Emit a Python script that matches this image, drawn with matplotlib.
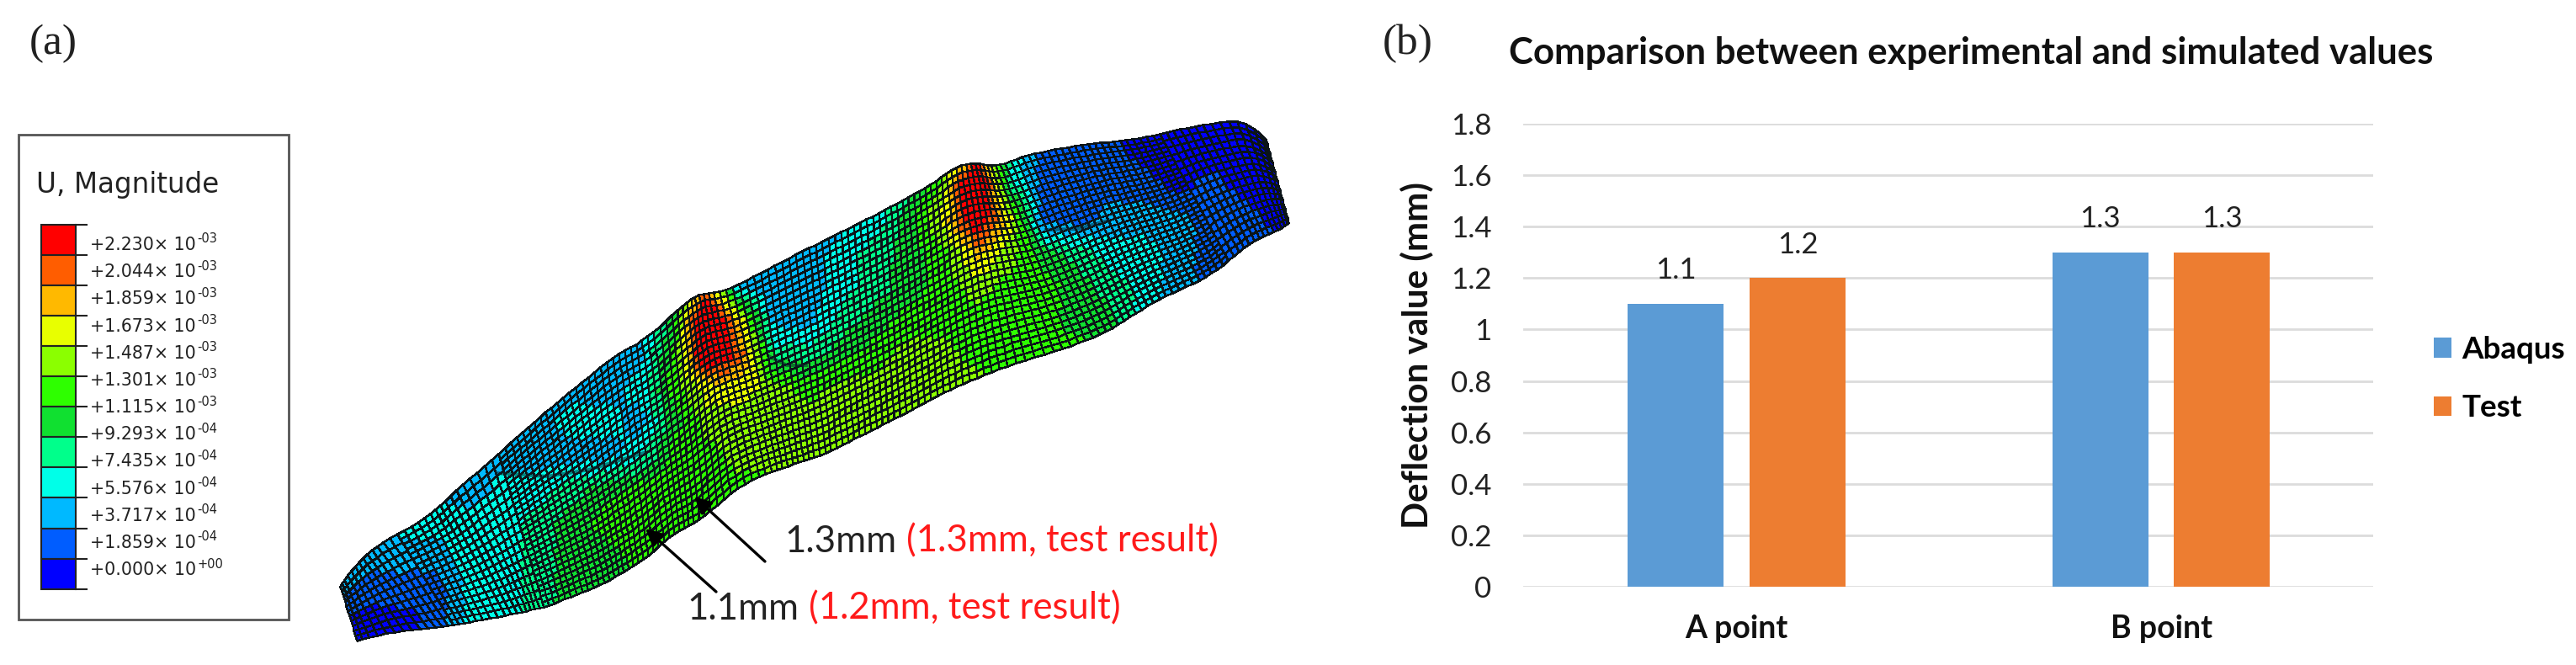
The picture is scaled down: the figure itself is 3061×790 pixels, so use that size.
import numpy as np
import matplotlib
matplotlib.use("Agg")
import matplotlib.pyplot as plt
from matplotlib.colors import ListedColormap, BoundaryNorm
from matplotlib.patches import Rectangle

W, H = 3061, 790

# ---- panel (b) data
categories = ["A point", "B point"]
abaqus = [1.1, 1.3]
test = [1.2, 1.3]
y_ticks = [0, 0.2, 0.4, 0.6, 0.8, 1, 1.2, 1.4, 1.6, 1.8]
y_tick_labels = ["0", "0.2", "0.4", "0.6", "0.8", "1", "1.2", "1.4", "1.6", "1.8"]

# ---- panel (a) contour legend
band_colors = ["#FF0000", "#FF5D00", "#FFB900", "#E8FF00", "#8BFF00", "#2EFF00",
               "#10E030", "#00FF8B", "#00FFE8", "#00B9FF", "#005DFF", "#0000FF"]
level_text = ["+2.230", "+2.044", "+1.859", "+1.673", "+1.487", "+1.301", "+1.115",
              "+9.293", "+7.435", "+5.576", "+3.717", "+1.859", "+0.000"]
level_exp = ["-03"] * 7 + ["-04"] * 5 + ["+00"]

# ---- panel (a) deformed part: outline stations (pixels)
top_edge = [(402,700),(420,673),(447,648),(510,613),(533,590),(600,532),(667,473),(733,420),
            (767,403),(810,363),(833,347),(857,348),(950,300),(1050,250),(1110,217),(1133,198),
            (1157,192),(1183,198),(1223,183),(1283,172),(1350,165),(1417,150),(1483,140),(1510,173)]
bottom_edge = [(418,762),(467,750),(520,745),(567,737),(610,729),(650,720),(717,693),(767,663),
               (800,633),(833,617),(873,580),(907,563),(977,540),(1067,495),(1133,460),(1165,447),
               (1200,433),(1267,413),(1317,393),(1367,360),(1437,327),(1490,285),(1525,270),(1533,263)]
# contour band seen at raster nodes (0 = deep blue ... b = red, c-e = core of a red patch);
# x from 400, y from 140, step 40 px
band_raster = [
    "11111111111111111111111000000",
    "222222222222222222" + "59311100000",
    "22222222222222222" + "47e411110100",
    "2222222222222222" + "358c811222110",
    "222222222222222" + "34569754332111",
    "2222222222" + "5922234567665432111",
    "2222222222" + "5e8224566666553" + "2111",
    "2222222222" + "6da445677666" + "6666666",
    "222222222" + "3688767777" + "7777777777",
    "2222222" + "3325777777" + "777777777777",
    "222222" + "222366777" + "77777777777777",
    "22222" + "33456666" + "6666666666666666",
    "333333" + "45666" + "666666666666666666",
    "2222334556" + "6666666666666666666",
    "21113345" + "555555555555555555555",
    "00013345" + "555555555555555555555",
    "00013345" + "555555555555555555555",
]
# mesh folds seen as dark creases
fold_lines = [[(590, 562), (650, 566), (700, 558), (765, 538)],
              [(915, 424), (935, 434), (958, 434)],
              [(1243, 273), (1280, 272), (1317, 262)]]

fig = plt.figure(figsize=(W / 100, H / 100), dpi=100, facecolor="white")

cv = fig.add_axes([0, 0, 1, 1])
cv.set_xlim(0, W)
cv.set_ylim(H, 0)
cv.axis("off")

SER = "Liberation Serif"
LAT = "Lato"
INK = "#222222"
cv.text(35, 52, "(a)", family=SER, fontsize=37, va="center", ha="left", color=INK)
cv.text(1643, 52, "(b)", family=SER, fontsize=37, va="center", ha="left", color=INK)

# contour legend
cv.add_patch(Rectangle((22, 160), 321, 576, fc="white", ec="#555555", lw=2))
cv.text(43, 219, "U, Magnitude", family="DejaVu Sans", fontsize=23.5, va="center", ha="left", color=INK)
bar_top, bar_h = 267, 36.05
for i, c in enumerate(band_colors):
    cv.add_patch(Rectangle((49, bar_top + i * bar_h), 41, bar_h, fc=c, ec=INK, lw=1.5))
for i in range(len(band_colors) + 1):
    yy = bar_top + i * bar_h
    cv.plot([90, 103], [yy, yy], color=INK, lw=1.5)
for i, (t, e) in enumerate(zip(level_text, level_exp)):
    yy = 291 + i * 32.17
    cv.text(107, yy, t + "\u00d7 10", family="DejaVu Sans", fontsize=14.8, va="center", ha="left", color=INK)
    cv.text(234, yy - 7, e, family="DejaVu Sans", fontsize=10.5, va="center", ha="left", color=INK)

# deformed mesh
top = np.array(top_edge, float)
bot = np.array(bottom_edge, float)
mid = (top + bot) / 2
cum = np.r_[0, np.cumsum(np.hypot(*np.diff(mid, axis=0).T))]
ncol = 155
idx = np.arange(len(cum))
s = np.interp(np.linspace(0, cum[-1], ncol + 1), cum, idx)


def smooth(a, k=2):
    pad = np.r_[np.full(k, a[0]), a, np.full(k, a[-1])]
    return np.convolve(pad, np.ones(2 * k + 1) / (2 * k + 1), mode="valid")


tx, ty = smooth(np.interp(s, idx, top[:, 0])), smooth(np.interp(s, idx, top[:, 1]))
bx, by = smooth(np.interp(s, idx, bot[:, 0])), smooth(np.interp(s, idx, bot[:, 1]))
raster = np.array([[int(ch, 16) + 0.5 for ch in row] for row in band_raster])
cmap = ListedColormap(band_colors[::-1])
norm = BoundaryNorm(np.arange(13), cmap.N)

sections = [(0, 2.5, 11), (2.5, 5, 18), (5, 20.5, 30), (20.5, 23, 18)]
for lo, hi, nrow in sections:
    keep = np.where((s >= lo - 0.12) & (s <= hi + 0.12))[0]
    v = np.linspace(0, 1, nrow + 1)
    X = np.outer(1 - v, tx[keep]) + np.outer(v, bx[keep])
    Y = np.outer(1 - v, ty[keep]) + np.outer(v, by[keep])
    xc = (X[:-1, :-1] + X[1:, 1:]) / 2
    yc = (Y[:-1, :-1] + Y[1:, 1:]) / 2
    fx = np.clip((xc - 400) / 40, 0, raster.shape[1] - 1.001)
    fy = np.clip((yc - 140) / 40, 0, raster.shape[0] - 1.001)
    ix, iy = fx.astype(int), fy.astype(int)
    dx, dy = fx - ix, fy - iy
    Z = (raster[iy, ix] * (1 - dx) * (1 - dy) + raster[iy, ix + 1] * dx * (1 - dy)
         + raster[iy + 1, ix] * (1 - dx) * dy + raster[iy + 1, ix + 1] * dx * dy)
    Z = np.minimum(Z, 11.5)
    cv.pcolormesh(X, Y, Z, cmap=cmap, norm=norm, edgecolors="#0b1418", linewidth=1.05, shading="flat", zorder=2)
for fold in fold_lines:
    fa = np.array(fold, float)
    cv.plot(fa[:, 0], fa[:, 1], color="#06222c", lw=3, alpha=0.55, zorder=3)

# callouts
for (x0, y0, x1, y1) in [(909, 667, 825, 590), (851, 703, 767, 628)]:
    cv.annotate("", xy=(x1, y1), xytext=(x0, y0), zorder=4,
                arrowprops=dict(arrowstyle="-|>", color="black", lw=2.4, mutation_scale=30, shrinkA=0, shrinkB=0))
cv.text(932, 643, "1.3mm", family=LAT, fontsize=31.5, va="center", ha="left", color=INK, zorder=5)
cv.text(1077, 643, "(1.3mm, test result)", family=LAT, fontsize=31.5, va="center", ha="left", color="#FF1A1A", zorder=5)
cv.text(816, 723, "1.1mm", family=LAT, fontsize=31.5, va="center", ha="left", color=INK, zorder=5)
cv.text(961, 723, "(1.2mm, test result)", family=LAT, fontsize=31.5, va="center", ha="left", color="#FF1A1A", zorder=5)

# ---- panel (b)
left, right, y18, y0 = 1810, 2820, 147, 697
ax = fig.add_axes([left / W, 1 - y0 / H, (right - left) / W, (y0 - y18) / H], zorder=3)
ax.patch.set_alpha(0)
ax.set_ylim(0, 1.8)
ax.set_xlim(-0.5025, 1.4995)
pos = np.arange(len(categories))
bw, off = 0.226, 0.1436
b1 = ax.bar(pos - off, abaqus, bw, color="#5B9BD5", label="Abaqus", zorder=3)
b2 = ax.bar(pos + off, test, bw, color="#ED7D31", label="Test", zorder=3)
for bars in (b1, b2):
    ax.bar_label(bars, fmt="%.1f", padding=17, family=LAT, fontsize=25, color=INK)
ax.set_yticks(y_ticks, y_tick_labels, family=LAT, fontsize=25, color=INK)
ax.set_xticks(pos, categories, family=LAT, fontsize=27, fontweight="bold", color="#111111")
ax.tick_params(length=0, axis="both")
ax.tick_params(axis="y", pad=27)
ax.tick_params(axis="x", pad=24)
ax.grid(axis="y", color="#DCDCDC", lw=2.0, zorder=0)
for sp in ax.spines.values():
    sp.set_visible(False)
ax.set_axisbelow(True)

cv.text(1793, 63, "Comparison between experimental and simulated values", family=LAT, fontsize=31.5,
        fontweight="bold", va="center", ha="left", color="#111111")
cv.text(1683, 422, "Deflection value (mm)", family=LAT, fontsize=30.3, fontweight="bold",
        rotation=90, va="center", ha="center", color="#111111")

ax.legend(loc="center left", bbox_to_anchor=(2892 / W, 1 - 450 / H), bbox_transform=fig.transFigure,
          frameon=False, prop=dict(family=LAT, size=26.5, weight="bold"), handlelength=0.57, handleheight=0.62,
          labelspacing=1.0, handletextpad=0.33, borderpad=0, borderaxespad=0)

fig.savefig("out.png", dpi=100, facecolor="white")
